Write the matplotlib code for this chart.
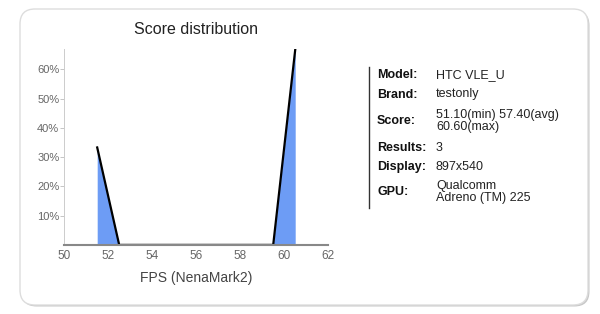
import numpy as np
import matplotlib
matplotlib.use("Agg")
import matplotlib.pyplot as plt
from matplotlib.patches import FancyBboxPatch
from matplotlib.ticker import FuncFormatter

plt.rcParams['font.family'] = ['Liberation Sans', 'DejaVu Sans']

# histogram of FPS results (percent of runs)
fps = [51.5, 52.5, 53.5, 54.5, 55.5, 56.5, 57.5, 58.5, 59.5, 60.5]
share = [33.33, 0, 0, 0, 0, 0, 0, 0, 0, 66.67]
x_ticks = [50, 52, 54, 56, 58, 60, 62]
y_ticks = [10, 20, 30, 40, 50, 60]

info_labels = ["Model:", "Brand:", "Score:", "Results:", "Display:", "GPU:"]
info_values = ["HTC VLE_U", "testonly", "51.10(min) 57.40(avg)\n60.60(max)",
               "3", "897x540", "Qualcomm\nAdreno (TM) 225"]

fig = plt.figure(figsize=(6, 3.14), dpi=100)

# card background with rounded corners
shadow = FancyBboxPatch((0.215, 0.075), 5.68, 2.96, boxstyle="round,pad=0,rounding_size=0.15",
                        transform=fig.dpi_scale_trans, fc="#c8c8c8", ec="none", zorder=0)
card = FancyBboxPatch((0.2, 0.09), 5.68, 2.96, boxstyle="round,pad=0,rounding_size=0.15",
                      transform=fig.dpi_scale_trans, fc="white", ec="#dddddd", lw=1, zorder=0)
fig.add_artist(shadow)
fig.add_artist(card)

ax = fig.add_axes([0.107, 0.22, 0.44, 0.624])
ax.fill_between(fps, share, color="#6d9cf5", lw=0, zorder=1.5)
ax.plot(fps, share, color="black", lw=1.6, zorder=2)

ax.set_xlim(50, 62)
ax.set_ylim(0, 67)
ax.set_xticks(x_ticks)
ax.set_yticks(y_ticks)
ax.yaxis.set_major_formatter(FuncFormatter(lambda v, p: "%d%%" % v))
ax.tick_params(axis="x", length=0, pad=4, labelsize=8.5, labelcolor="#666666")
ax.tick_params(axis="y", length=3, width=0.6, color="#bbbbbb", pad=0.5, labelsize=8, labelcolor="#666666")

for s in ["top", "right"]:
    ax.spines[s].set_visible(False)
ax.spines["left"].set_color("#cccccc")
ax.spines["left"].set_linewidth(0.7)
ax.spines["bottom"].set_color("#888888")
ax.spines["bottom"].set_linewidth(1.5)

ax.set_title("Score distribution", fontsize=11.5, color="#222222", pad=11)
ax.set_xlabel("FPS (NenaMark2)", fontsize=10, color="#444444", labelpad=6)

# info panel
fig.add_artist(plt.Line2D([368.5 / 600, 368.5 / 600], [1 - 67 / 314, 1 - 208 / 314],
                          transform=fig.transFigure, color="#333333", lw=1))
rows_y = [75, 94.5, 121, 148, 167, 192]
for lab, val, yy in zip(info_labels, info_values, rows_y):
    fig.text(377 / 600, 1 - yy / 314, lab, fontsize=9, fontweight="bold", color="#111111", va="center")
    fig.text(436 / 600, 1 - yy / 314, val, fontsize=9, color="#222222", va="center", linespacing=1.05)

fig.savefig("out.png", dpi=100)
